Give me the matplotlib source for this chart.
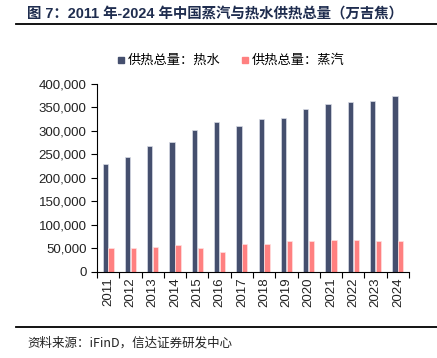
import matplotlib.pyplot as plt
from matplotlib.lines import Line2D
from matplotlib.ticker import FuncFormatter
import numpy as np

plt.rcParams['font.family'] = ['Liberation Sans', 'Noto Sans CJK SC', 'DejaVu Sans']

# 数据
years = ["2011", "2012", "2013", "2014", "2015", "2016", "2017",
         "2018", "2019", "2020", "2021", "2022", "2023", "2024"]
hot_water = [229500, 243800, 267200, 277000, 302600, 318400, 310500,
             324800, 327500, 346100, 358000, 361600, 363800, 373800]
steam = [51100, 51100, 53300, 56200, 49900, 41300, 58400,
         58000, 65400, 65400, 67600, 67000, 66000, 66000]
labels = ["供热总量：热水", "供热总量：蒸汽"]
colors = ["#454F6E", "#FF8080"]

fig = plt.figure(figsize=(4.37, 3.58), dpi=100)
ax = fig.add_axes([97 / 437, (358 - 271.7) / 358, 312 / 437, 187.7 / 358])

x = np.arange(len(years))
w = 0.24
ax.bar(x - w / 2 - 0.01, hot_water, width=w, color=colors[0], edgecolor="#D8DCE6", linewidth=0.5)
ax.bar(x + w / 2 + 0.01, steam, width=w, color=colors[1], edgecolor="#FFE0E0", linewidth=0.5)

ax.set_xlim(-0.5, len(years) - 0.5)
ax.set_ylim(0, 400000)
ax.set_yticks(range(0, 400001, 50000))
ax.yaxis.set_major_formatter(FuncFormatter(lambda v, p: f"{int(v):,}"))

# x 轴：刻度在分类边界，标签在分类中间
ax.set_xticks(np.arange(-0.5, len(years), 1.0))
ax.set_xticklabels([])
ax.set_xticks(x, minor=True)
ax.set_xticklabels(years, minor=True, rotation=90, fontsize=9.5, color="#222222")
ax.tick_params(axis="x", which="minor", length=0, pad=4)
ax.tick_params(axis="x", which="major", length=4, width=0.8, direction="out")
ax.tick_params(axis="y", length=4, width=0.8, labelsize=9.5, labelcolor="#222222")

for s in ["top", "right"]:
    ax.spines[s].set_visible(False)
for s in ["left", "bottom"]:
    ax.spines[s].set_color("black")
    ax.spines[s].set_linewidth(0.8)

# 图例
handles = [Line2D([], [], marker="s", linestyle="", color=c, markersize=5) for c in colors]
fig.legend(handles, labels, loc="center", bbox_to_anchor=(230 / 437, 1 - 61 / 358),
           ncol=2, frameon=False, fontsize=9.5, handletextpad=0.1, columnspacing=1.5,
           handlelength=0.8)

# 标题与来源
fig.text(27 / 437, 1 - 14 / 358, "图 7：2011 年-2024 年中国蒸汽与热水供热总量（万吉焦）",
         fontsize=10.4, fontweight="bold", color="#1F2D4F", va="center", ha="left",
         family=["Liberation Sans", "Noto Sans CJK SC"])
fig.add_artist(Line2D([16 / 437, 1], [1 - 23.5 / 358] * 2, color="black", linewidth=1.3))
fig.add_artist(Line2D([16 / 437, 1], [1 - 327 / 358] * 2, color="black", linewidth=1.3))
fig.text(27 / 437, 1 - 343 / 358, "资料来源：iFinD，信达证券研发中心",
         fontsize=9, style="italic", color="#222222", va="center", ha="left",
         family=["Noto Sans CJK SC", "Liberation Sans"])

fig.savefig("out.png", dpi=100)
